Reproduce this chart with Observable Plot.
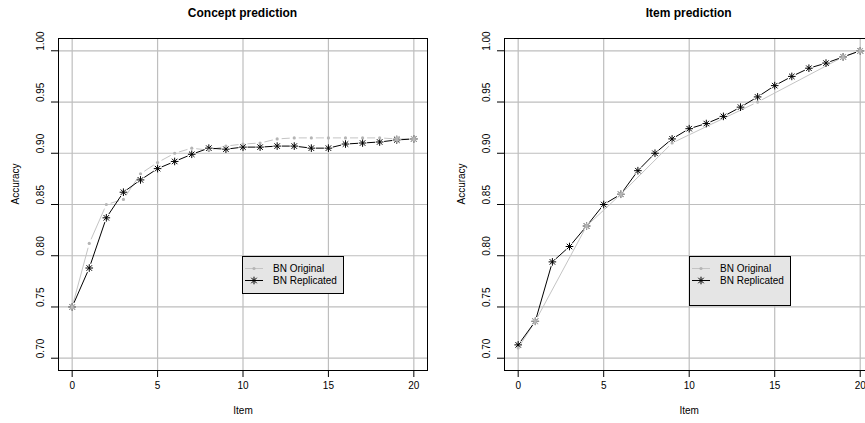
<!DOCTYPE html>
<html>
<head>
<meta charset="utf-8">
<script src="https://cdn.jsdelivr.net/npm/d3@7"></script>
<script src="https://cdn.jsdelivr.net/npm/@observablehq/plot@0.6"></script>
<style>
  html, body { margin: 0; padding: 0; background: #fff; }
  #wrap { position: relative; width: 865px; height: 423px; overflow: hidden; background: #fff;
          font-family: "Liberation Sans", Arial, Helvetica, sans-serif; }
  .panel { position: absolute; top: 0; }
  .panel svg { max-width: none !important; }
  .title { position: absolute; top: 6px; font-weight: bold; font-size: 12px; line-height: 14px; text-align: center; color: #000; }
  .legend { position: absolute; box-sizing: border-box; border: 1px solid #000; background: #e5e5e5; }
  .legend svg { position: absolute; left: 0; top: 0; }
  .legend span { position: absolute; font-size: 10px; line-height: 12px; white-space: nowrap; color: #000; }
</style>
</head>
<body>
<div id="wrap"></div>
<script>
// ---------- data ----------
const items = [0,1,2,3,4,5,6,7,8,9,10,11,12,13,14,15,16,17,18,19,20];
const conceptOriginal   = [0.750,0.812,0.850,0.855,0.880,0.891,0.900,0.905,0.903,0.907,0.909,0.910,0.914,0.915,0.915,0.915,0.915,0.915,0.915,0.914,0.914];
const conceptReplicated = [0.750,0.788,0.837,0.862,0.874,0.885,0.892,0.899,0.905,0.904,0.906,0.906,0.907,0.907,0.905,0.905,0.909,0.910,0.911,0.913,0.914];
const itemOriginalItems = [0,1,4,6,9,14,19,20];
const itemOriginal      = [0.710,0.736,0.829,0.860,0.910,0.950,0.994,1.000];
const itemReplicated    = [0.713,0.736,0.794,0.809,0.829,0.850,0.860,0.883,0.900,0.914,0.924,0.929,0.936,0.945,0.955,0.966,0.975,0.983,0.988,0.994,1.000];
const xTicks = [0,5,10,15,20];
const yTicks = [0.70,0.75,0.80,0.85,0.90,0.95,1.00];
const seriesNames = ["BN Original","BN Replicated"];
const panelTitles = ["Concept prediction","Item prediction"];
const xLabel = "Item";
const yLabel = "Accuracy";

// ---------- helpers ----------
const GRAY_LINE = "#c4c4c4";
const GRAY_PT = "#b4b4b4";
const GRID = "#bebebe";
const rows = (xs, ys) => xs.map((x, i) => ({x, y: ys[i]}));
const segs = (r) => r.slice(1).map((d, i) => ({x1: r[i].x, y1: r[i].y, x2: d.x, y2: d.y}));
// R pch 8 : "+" and "x" superimposed
const asterisk = {
  draw(ctx, size) {
    const r = Math.sqrt(size / Math.PI), d = r * 0.72;
    ctx.moveTo(-r, 0); ctx.lineTo(r, 0);
    ctx.moveTo(0, -r); ctx.lineTo(0, r);
    ctx.moveTo(-d, -d); ctx.lineTo(d, d);
    ctx.moveTo(-d, d); ctx.lineTo(d, -d);
  }
};

function panel({orig, rep, width, marginLeft, marginRight}) {
  const repAt = new Map(rep.map(d => [d.x, d.y]));
  const same = orig.filter(d => repAt.has(d.x) && Math.abs(repAt.get(d.x) - d.y) < 0.0015);
  const diff = orig.filter(d => !same.includes(d));
  const segStyle = {x1: "x1", y1: "y1", x2: "x2", y2: "y2", headLength: 0, insetStart: 4.5, insetEnd: 4.5, strokeLinecap: "butt", strokeWidth: 1};
  return Plot.plot({
    width, height: 423,
    marginLeft, marginRight, marginTop: 38, marginBottom: 53,
    x: {domain: [-0.8, 20.8], axis: null},
    y: {domain: [0.688, 1.012], axis: null},
    style: {fontFamily: "'Liberation Sans', Arial, Helvetica, sans-serif", fontSize: "10px", background: "transparent", color: "#000", maxWidth: "none"},
    marks: [
      Plot.ruleX(xTicks, {stroke: GRID, strokeWidth: 1.2}),
      Plot.ruleY(yTicks, {stroke: GRID, strokeWidth: 1.2}),
      Plot.frame({stroke: "#000", strokeWidth: 1}),
      Plot.axisX({ticks: xTicks, tickSize: 7, tickPadding: 4, tickFormat: d3.format("d"), label: null, fontSize: 10}),
      Plot.axisY({ticks: yTicks, tickSize: 7, tickFormat: () => "", label: null}),
      Plot.text(yTicks, {y: d => d, frameAnchor: "left", dx: -18, rotate: -90, text: d3.format(".2f"), fontSize: 10}),
      Plot.text([xLabel], {frameAnchor: "bottom", dy: 43, fontSize: 10}),
      Plot.text([yLabel], {frameAnchor: "left", dx: -43, rotate: -90, fontSize: 10}),
      Plot.arrow(segs(orig), {...segStyle, stroke: GRAY_LINE}),
      Plot.arrow(segs(rep), {...segStyle, stroke: "#000"}),
      Plot.dot(rep, {x: "x", y: "y", symbol: asterisk, r: 3.8, stroke: "#000", fill: "none", strokeWidth: 1}),
      Plot.dot(diff, {x: "x", y: "y", r: 1.6, fill: GRAY_PT, stroke: "none"}),
      Plot.dot(same, {x: "x", y: "y", symbol: asterisk, r: 3.8, stroke: GRAY_PT, fill: "none", strokeWidth: 1.1})
    ]
  });
}

function legend(left, top, w, h) {
  const el = document.createElement("div");
  el.className = "legend";
  Object.assign(el.style, {left: left + "px", top: top + "px", width: w + "px", height: h + "px"});
  const ns = "http://www.w3.org/2000/svg";
  const svg = document.createElementNS(ns, "svg");
  svg.setAttribute("width", w); svg.setAttribute("height", h);
  const rowsY = [11.5, 23.5];
  const mk = (tag, attrs) => { const e = document.createElementNS(ns, tag); for (const k in attrs) e.setAttribute(k, attrs[k]); svg.appendChild(e); return e; };
  mk("line", {x1: 2, x2: 20, y1: rowsY[0], y2: rowsY[0], stroke: GRAY_LINE, "stroke-width": 1});
  mk("circle", {cx: 11, cy: rowsY[0], r: 1.6, fill: GRAY_PT});
  mk("line", {x1: 2, x2: 20, y1: rowsY[1], y2: rowsY[1], stroke: "#000", "stroke-width": 1});
  const r = 3.8, d = r * 0.72, cx = 11, cy = rowsY[1];
  mk("path", {d: `M${cx-r},${cy}L${cx+r},${cy}M${cx},${cy-r}L${cx},${cy+r}M${cx-d},${cy-d}L${cx+d},${cy+d}M${cx-d},${cy+d}L${cx+d},${cy-d}`, stroke: "#000", fill: "none", "stroke-width": 1});
  el.appendChild(svg);
  seriesNames.forEach((name, i) => {
    const s = document.createElement("span");
    s.textContent = name;
    s.style.left = "30px";
    s.style.top = (rowsY[i] - 6) + "px";
    el.appendChild(s);
  });
  return el;
}

const wrap = document.getElementById("wrap");

const leftDiv = document.createElement("div");
leftDiv.className = "panel"; leftDiv.style.left = "0px"; leftDiv.style.width = "432px";
leftDiv.appendChild(panel({orig: rows(items, conceptOriginal), rep: rows(items, conceptReplicated), width: 432, marginLeft: 58, marginRight: 5}));
wrap.appendChild(leftDiv);

const rightDiv = document.createElement("div");
rightDiv.className = "panel"; rightDiv.style.left = "432px"; rightDiv.style.width = "445px";
rightDiv.appendChild(panel({orig: rows(itemOriginalItems, itemOriginal), rep: rows(items, itemReplicated), width: 445, marginLeft: 72, marginRight: 3.6}));
wrap.appendChild(rightDiv);

[[58, 369, panelTitles[0]], [432 + 72, 369.4, panelTitles[1]]].forEach(([l, w, t]) => {
  const d = document.createElement("div");
  d.className = "title"; d.textContent = t;
  d.style.left = l + "px"; d.style.width = w + "px";
  wrap.appendChild(d);
});

wrap.appendChild(legend(242, 256, 102, 38));
wrap.appendChild(legend(689, 256, 102, 50));
</script>
</body>
</html>
